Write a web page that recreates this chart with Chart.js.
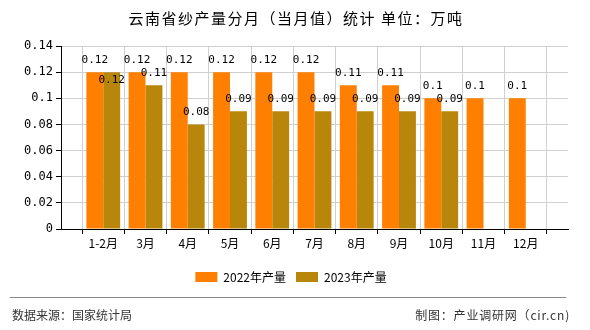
<!DOCTYPE html>
<html>
<head>
<meta charset="utf-8">
<script src="https://cdn.jsdelivr.net/npm/chart.js@4.4.1/dist/chart.umd.min.js"></script>
<style>
  body { margin: 0; background: #fff; }
  #wrap { position: relative; width: 590px; height: 330px; }
  #wrap canvas { position: absolute; left: 0; top: 0; }
  .title { position: absolute; left: 0; top: 8px; width: 590px; padding-left: 1px; text-align: center;
           font: 15px/20px "Noto Sans CJK SC", sans-serif; letter-spacing: 1.5px; color: #000; }
  .sep { position: absolute; left: 10px; top: 297px; width: 556px; height: 0; border-top: 1px solid #888; }
  .foot { position: absolute; top: 306px; font: 12px "Noto Sans CJK SC", sans-serif; color: #333; }
</style>
</head>
<body>
<div id="wrap">
  <canvas id="prodChart" width="590" height="330"></canvas>
  <div class="title">云南省纱产量分月（当月值）统计 单位：万吨</div>
  <div class="sep"></div>
  <div class="foot" style="left:12px">数据来源：国家统计局</div>
  <div class="foot" style="right:20px; letter-spacing:0.8px">制图：产业调研网（cir.cn)</div>
</div>
<script>
// categories (empty ends keep a half-slot gap like the original)
const months = ['', '1-2月', '3月', '4月', '5月', '6月', '7月', '8月', '9月', '10月', '11月', '12月', ''];
const output2022 = [null, 0.12, 0.12, 0.12, 0.12, 0.12, 0.12, 0.11, 0.11, 0.1, 0.1, 0.1, null];
const output2023 = [null, 0.12, 0.11, 0.08, 0.09, 0.09, 0.09, 0.09, 0.09, 0.09, null, null, null];
const yTicks = [0, 0.02, 0.04, 0.06, 0.08, 0.1, 0.12, 0.14];

const cjk = '"Noto Sans CJK SC", sans-serif';
const mono = '"DejaVu Sans Mono", monospace';

// value labels above the bars, pushed under the bar top when they would collide
const barLabels = {
  id: 'barLabels',
  afterDatasetsDraw(chart) {
    const ctx = chart.ctx;
    const placed = [];
    ctx.save();
    ctx.font = '11px ' + mono;
    ctx.fillStyle = '#000';
    ctx.textAlign = 'center';
    ctx.textBaseline = 'middle';
    chart.data.datasets.forEach((ds, di) => {
      chart.getDatasetMeta(di).data.forEach((bar, i) => {
        const v = ds.data[i];
        if (v == null) return;
        const txt = String(v);
        const w = ctx.measureText(txt).width;
        let y = bar.y - 12;
        const hit = placed.some(p => Math.abs(p.x - bar.x) < (p.w + w) / 2 && Math.abs(p.y - y) < 11);
        if (hit) y = bar.y + 8;
        placed.push({x: bar.x, y: y, w: w});
        ctx.fillText(txt, bar.x, y);
      });
    });
    ctx.restore();
  }
};

new Chart(document.getElementById('prodChart'), {
  type: 'bar',
  data: {
    labels: months,
    datasets: [{
      label: '2022年产量',
      data: output2022,
      backgroundColor: '#ff8000'
    }, {
      label: '2023年产量',
      data: output2023,
      backgroundColor: '#b8860b'
    }]
  },
  options: {
    responsive: false,
    animation: false,
    layout: { padding: { left: 14, right: 22, top: 46, bottom: 37 } },
    datasets: { bar: { categoryPercentage: 0.8, barPercentage: 1.0, borderWidth: 0 } },
    plugins: {
      legend: {
        position: 'bottom',
        labels: {
          color: '#000',
          font: { family: cjk, size: 12 },
          boxWidth: 22,
          boxHeight: 10,
          padding: 10
        }
      },
      tooltip: { enabled: false }
    },
    scales: {
      x: {
        offset: false,
        grid: { color: '#d0d0d0', tickColor: '#000', tickLength: 5 },
        border: { color: '#000' },
        ticks: { color: '#000', font: { family: cjk, size: 12 }, padding: 2, maxRotation: 0, autoSkip: false },
        afterFit: s => { s.height = 32; }
      },
      y: {
        min: 0,
        max: 0.14,
        afterBuildTicks: s => { s.ticks = yTicks.map(v => ({ value: v })); },
        grid: { color: '#d0d0d0', tickColor: '#000', tickLength: 5 },
        border: { color: '#000' },
        ticks: {
          color: '#000',
          font: { family: mono, size: 12 },
          padding: 3,
          callback: v => String(Number(v.toFixed(2)))
        },
        afterFit: s => { s.width = 47; }
      }
    }
  },
  plugins: [barLabels]
});
</script>
</body>
</html>
